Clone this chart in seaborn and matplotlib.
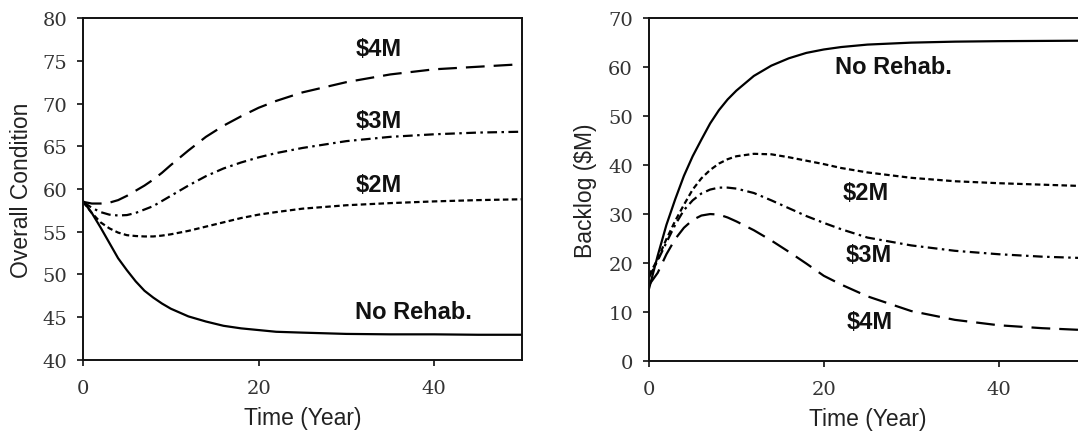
import matplotlib
matplotlib.use("Agg")
import matplotlib.pyplot as plt
import seaborn as sns
import pandas as pd

# Simulation years shared by both panels
years = [0, 1, 2, 3, 4, 5, 6, 7, 8, 9, 10, 12, 14, 16, 18, 20, 22, 25, 30, 35, 40, 45, 50]

scenarios = ["No Rehab.", "$2M", "$3M", "$4M"]

# Overall network condition under each annual rehabilitation budget
cond_none = [58.6, 57.2, 55.5, 53.7, 51.9, 50.5, 49.2, 48.1, 47.3, 46.6, 46.0, 45.1,
             44.5, 44.0, 43.7, 43.5, 43.3, 43.2, 43.05, 43.0, 43.0, 42.95, 42.95]
cond_2m = [58.5, 57.2, 56.1, 55.4, 54.9, 54.6, 54.5, 54.45, 54.45, 54.55, 54.7, 55.1,
           55.6, 56.1, 56.6, 57.0, 57.3, 57.7, 58.1, 58.35, 58.55, 58.7, 58.8]
cond_3m = [58.5, 57.8, 57.3, 57.0, 56.9, 56.95, 57.2, 57.6, 58.0, 58.6, 59.2, 60.4,
           61.5, 62.4, 63.1, 63.7, 64.2, 64.8, 65.6, 66.1, 66.4, 66.6, 66.7]
cond_4m = [58.5, 58.3, 58.3, 58.4, 58.7, 59.2, 59.8, 60.4, 61.1, 61.9, 62.8, 64.5,
           66.1, 67.4, 68.5, 69.5, 70.3, 71.3, 72.5, 73.4, 74.0, 74.3, 74.6]

# Rehabilitation backlog ($M) under each budget
back_none = [14.7, 21.5, 27.8, 33.0, 37.8, 41.8, 45.2, 48.5, 51.2, 53.4, 55.2, 58.2,
             60.3, 61.8, 62.9, 63.6, 64.1, 64.6, 65.0, 65.2, 65.3, 65.35, 65.4]
back_2m = [17.5, 20.8, 24.9, 28.6, 31.9, 35.0, 37.3, 39.0, 40.3, 41.2, 41.8, 42.3,
           42.2, 41.6, 40.9, 40.2, 39.4, 38.5, 37.4, 36.7, 36.3, 36.0, 35.7]
back_3m = [17.0, 20.5, 24.2, 27.8, 30.8, 32.8, 34.2, 35.0, 35.4, 35.4, 35.2, 34.3,
           32.8, 31.2, 29.6, 28.2, 26.9, 25.2, 23.6, 22.5, 21.8, 21.3, 21.0]
back_4m = [15.5, 18.0, 21.8, 24.9, 27.2, 28.8, 29.7, 30.0, 29.9, 29.3, 28.5, 26.7,
           24.6, 22.3, 19.9, 17.4, 15.6, 13.2, 10.2, 8.4, 7.3, 6.7, 6.3]

cond_ticks = [40, 45, 50, 55, 60, 65, 70, 75, 80]
back_ticks = [0, 10, 20, 30, 40, 50, 60, 70]
year_ticks = [0, 20, 40]


def long_frame(series, name):
    rows = []
    for scen, vals in zip(scenarios, series):
        for yr, v in zip(years, vals):
            rows.append({"Year": yr, name: v, "Scenario": scen})
    return pd.DataFrame(rows)


cond_df = long_frame([cond_none, cond_2m, cond_3m, cond_4m], "Condition")
back_df = long_frame([back_none, back_2m, back_3m, back_4m], "Backlog")

sns.set_theme(style="ticks")
plt.rcParams["font.family"] = ["Liberation Sans", "DejaVu Sans"]
plt.rcParams["lines.scale_dashes"] = False

dash_map = {
    "No Rehab.": "",
    "$2M": (4.0, 2.4),
    "$3M": (7.0, 3.2, 1.8, 3.2),
    "$4M": (13.5, 6.5),
}

fig = plt.figure(figsize=(10.78, 4.39), dpi=100)
ax1 = fig.add_axes([0.077, 0.1777, 0.4072, 0.779])
ax2 = fig.add_axes([0.602, 0.1754, 0.4054, 0.781])

sns.lineplot(data=cond_df, x="Year", y="Condition", style="Scenario",
             style_order=scenarios, dashes=dash_map, color="black",
             linewidth=1.6, legend=False, ax=ax1)
sns.lineplot(data=back_df, x="Year", y="Backlog", style="Scenario",
             style_order=scenarios, dashes=dash_map, color="black",
             linewidth=1.6, legend=False, ax=ax2)

ax1.set_xlim(0, 50)
ax1.set_ylim(40, 80)
ax1.set_yticks(cond_ticks)
ax2.set_xlim(0, 50)
ax2.set_ylim(0, 70)
ax2.set_yticks(back_ticks)

for ax in (ax1, ax2):
    ax.set_xticks(year_ticks)
    ax.tick_params(direction="out", length=4.5, width=1.3, color="#222222",
                   labelsize=14, labelcolor="#333333",
                   labelfontfamily="DejaVu Serif", pad=7)
    ax.tick_params(axis="x", pad=9)
    for sp in ax.spines.values():
        sp.set_visible(True)
        sp.set_linewidth(1.4)
        sp.set_color("#111111")
    ax.set_xlabel("Time (Year)", fontsize=16.5, color="#222222")

ax1.set_ylabel("Overall Condition", fontsize=16.5, color="#222222")
ax2.set_ylabel("Backlog ($M)", fontsize=16.5, color="#222222")
ax1.yaxis.set_label_coords(-0.113, 0.5)
ax2.yaxis.set_label_coords(-0.118, 0.5)
ax1.xaxis.set_label_coords(0.5, -0.135)
ax2.xaxis.set_label_coords(0.5, -0.135)

lab_kw = dict(fontsize=17, fontweight="bold", color="#111111", va="center", ha="left")
ax1.text(31, 76.4, "$4M", **lab_kw)
ax1.text(31, 68.0, "$3M", **lab_kw)
ax1.text(31, 60.5, "$2M", **lab_kw)
ax1.text(31, 45.7, "No Rehab.", **lab_kw)

ax2.text(21.3, 60.2, "No Rehab.", **lab_kw)
ax2.text(22.2, 34.4, "$2M", **lab_kw)
ax2.text(22.5, 21.7, "$3M", **lab_kw)
ax2.text(22.6, 8.0, "$4M", **lab_kw)

fig.savefig("out.png", dpi=100)
